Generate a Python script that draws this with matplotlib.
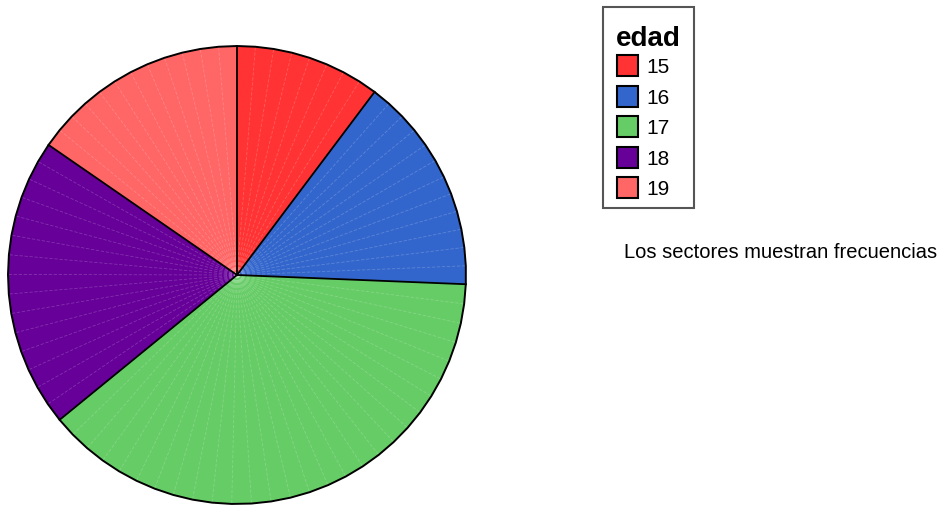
import numpy as np
import matplotlib.pyplot as plt
from matplotlib.patches import Rectangle, Polygon

plt.rcParams['font.family'] = ['Liberation Sans', 'DejaVu Sans']

# frecuencias de edad
edades = ['15', '16', '17', '18', '19']
frecuencias = [4, 6, 15, 8, 6]
colores = ['#FF3333', '#3366CC', '#66CC66', '#660099', '#FF6666']

fig = plt.figure(figsize=(9.45, 5.06), dpi=100)
ax = fig.add_axes([0, 0, 1, 1])
ax.set_xlim(0, 945)
ax.set_ylim(506, 0)
ax.axis('off')

cx, cy, r = 237, 276, 229
paso = 5.0  # grados entre vertices del poligono


def punto(ang, rad=r):
    a = np.radians(ang)
    return cx + rad * np.sin(a), cy - rad * np.cos(a)


total = sum(frecuencias)
limites = np.concatenate([[0], np.cumsum(frecuencias) / total * 360])

contorno = []
for i, color in enumerate(colores):
    a0, a1 = limites[i], limites[i + 1]
    n = max(2, int(np.ceil((a1 - a0) / paso)) + 1)
    angs = np.linspace(a0, a1, n)
    arco = [punto(a) for a in angs]
    contorno.extend(arco[:-1])
    ax.add_patch(Polygon([(cx, cy)] + arco, closed=True, facecolor=color,
                         edgecolor=color, lw=0.3, zorder=1))
    # lineas radiales tenues dentro del sector
    for a in angs[1:-1]:
        x, y = punto(a)
        ax.plot([cx, x], [cy, y], color='white', alpha=0.2, lw=0.6,
                ls=(0, (4, 2)), zorder=2)

# borde exterior y separaciones
ax.add_patch(Polygon(contorno, closed=True, facecolor='none',
                     edgecolor='black', lw=1.4, zorder=3))
for a in limites[:-1]:
    x, y = punto(a)
    ax.plot([cx, x], [cy, y], color='black', lw=1.3, zorder=3)

# leyenda
ax.add_patch(Rectangle((603, 8), 91, 201, facecolor='white',
                       edgecolor='#555555', lw=1.5, zorder=4))
ax.text(616, 39, 'edad', fontsize=20, fontweight='bold',
        va='center', ha='left', zorder=5)
for i, (edad, color) in enumerate(zip(edades, colores)):
    y0 = 56 + i * 30.6
    ax.add_patch(Rectangle((617, y0), 21, 21, facecolor=color,
                           edgecolor='black', lw=1.5, zorder=5))
    ax.text(646, y0 + 11.5, edad, fontsize=15, va='center', ha='left', zorder=5)

ax.text(624, 252, 'Los sectores muestran frecuencias', fontsize=14.5,
        va='center', ha='left')

fig.savefig('out.png', dpi=100)
